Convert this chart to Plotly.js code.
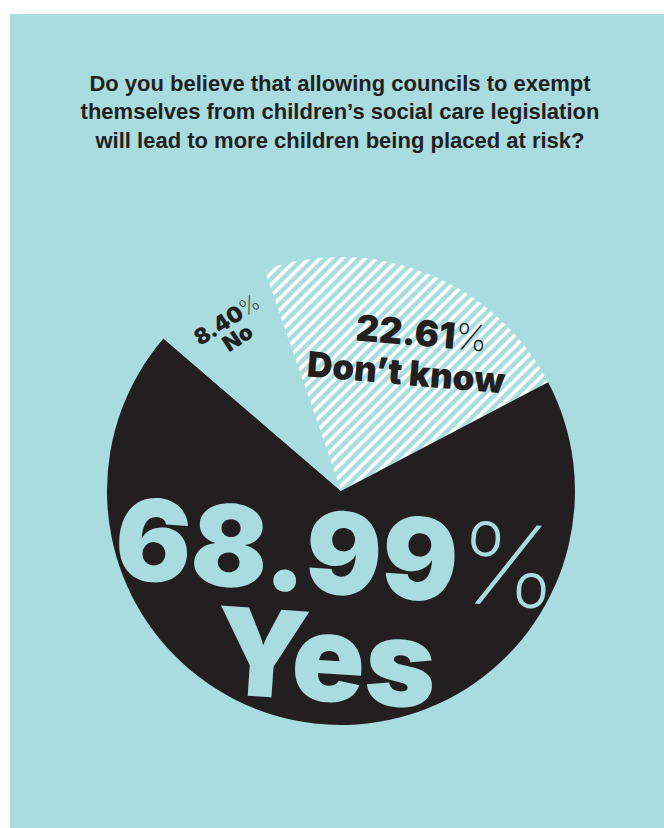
<!DOCTYPE html>
<html>
<head>
<meta charset="utf-8">
<script src="https://cdn.plot.ly/plotly-3.0.1.min.js"></script>
<style>
  html, body { margin: 0; padding: 0; background: #ffffff; }
  #chart { position: absolute; left: 10px; top: 14px; width: 654px; height: 814px; }
</style>
</head>
<body>
<div id="chart"></div>
<script>
// ---- data ----
const labels = ["Don’t know", "Yes", "No"];
const values = [22.61, 68.99, 8.40];
const titleLines = [
  "Do you believe that allowing councils to exempt",
  "themselves from children’s social care legislation",
  "will lead to more children being placed at risk?"
];

// ---- styles ----
const TEAL = "#a8dcdf";
const INK = "#231f20";
const FONT = "Liberation Sans, Arial, sans-serif";
const HEAVY = "Inter, Roboto, Liberation Sans, sans-serif";

function pct(v) {
  return v.toFixed(2) +
    '<span style="font-weight:200">%</span>';
}

const trace = {
  type: "pie",
  labels: labels,
  values: values,
  sort: false,
  direction: "clockwise",
  rotation: -19.1,
  textinfo: "none",
  hoverinfo: "skip",
  domain: { x: [0.1483, 0.8639], y: [0.1265, 0.7015] },
  marker: {
    colors: [TEAL, INK, TEAL],
    line: { width: 0 },
    pattern: {
      shape: ["/", "", ""],
      bgcolor: [TEAL, INK, TEAL],
      fgcolor: ["#ffffff", INK, TEAL],
      size: 8,
      solidity: 0.45,
      fillmode: "replace"
    }
  }
};

const iDK = 0, iYes = 1, iNo = 2;
function ann(text, x, y, size, color, angle) {
  return {
    text: text, x: x, y: y, xref: "paper", yref: "paper",
    xanchor: "center", yanchor: "middle", showarrow: false,
    textangle: angle,
    font: { family: HEAVY, size: size, color: color, weight: 900 }
  };
}

const annotations = [
  ann(pct(values[iYes]), 0.5000, 0.3380, 113, TEAL, 4),
  ann(labels[iYes], 0.4830, 0.2100, 121, TEAL, 4),
  ann(pct(values[iDK]), 0.630, 0.6081, 36, INK, 5),
  ann(labels[iDK], 0.607, 0.5602, 35, INK, 5),
  ann(pct(values[iNo]), 0.3303, 0.6241, 22, INK, -33),
  ann(labels[iNo], 0.3486, 0.6032, 22, INK, -33)
];

const layout = {
  width: 654,
  height: 814,
  margin: { l: 0, r: 0, t: 0, b: 0 },
  paper_bgcolor: TEAL,
  plot_bgcolor: TEAL,
  showlegend: false,
  title: {
    text: titleLines.join("<br>"),
    x: 0.5046, xref: "container", xanchor: "center",
    y: 0.906, yref: "container", yanchor: "top",
    font: { family: FONT, size: 22, color: INK, weight: "bold" }
  },
  annotations: annotations
};

Plotly.newPlot("chart", [trace], layout, { displayModeBar: false, staticPlot: true });
</script>
</body>
</html>
